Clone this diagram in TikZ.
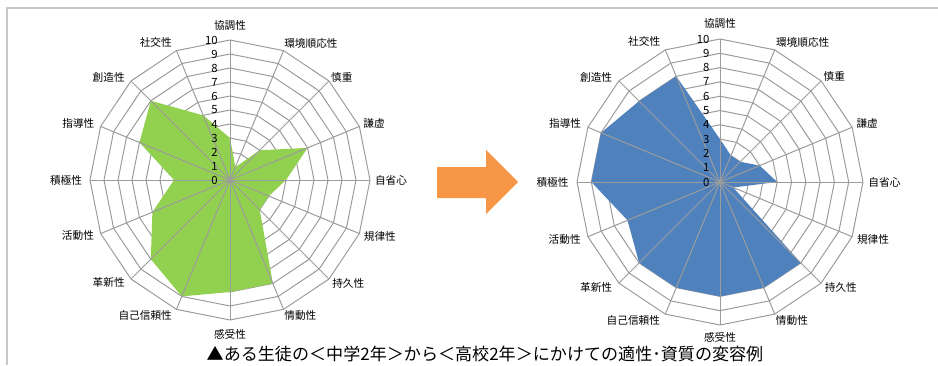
\documentclass[tikz,border=0pt]{standalone}
\usepackage{fontspec}
\setmainfont{Noto Sans CJK JP}
\definecolor{gridgray}{HTML}{9C9C9C}
\definecolor{framegray}{HTML}{C8C8C8}
\definecolor{chartgreen}{HTML}{92D050}
\definecolor{chartblue}{HTML}{4F81BD}
\definecolor{arroworange}{HTML}{F79646}
\begin{document}
\begin{tikzpicture}[x=0.75pt, y=0.75pt,
	grid/.style={draw=gridgray, line width=0.75pt, line join=round},
	axislabel/.style={font=\fontsize{8}{9}\selectfont, inner sep=0pt},
	ticklabel/.style={font=\fontsize{8.5}{9}\selectfont, inner sep=0pt, anchor=east}]

	\useasboundingbox (0,0) rectangle (938,365);

	\draw
		[framegray, line width=1.2pt] (7,0) -- (7,357) -- (938,357);

	% left chart: 中学2年
	\begin{scope}[shift={(230,185)}]
		\foreach \r in {1,...,10}
			\draw
				[grid] (90:{\r*14}) \foreach \i in {1,...,15} { -- ({90-22.5*\i}:{\r*14}) } -- cycle;

		\fill
			[chartgreen] (90:{3*14})
			\foreach \i/\v in {1/1,2/3,3/6,4/4,5/3,6/3,7/8,8/8,9/9,10/8,11/6,12/4,13/7,14/8,15/5}
				{ -- ({90-22.5*\i}:{\v*14}) } -- cycle;

		\foreach \i in {0,...,15}
			\draw
				[grid] (0,0) -- ({90-22.5*\i}:140);

		\foreach \r in {0,...,10}
			\node [ticklabel] (Lt\r) at (-12, {\r*14}) {\r};

		\foreach \a/\d/\t [count=\n] in {90/155/協調性, 59.4/159/環境順応性, 42.6/152/慎重,
				21.6/155/謙虚, 0/161/自省心, -20.5/160/規律性, -41.1/157/持久性, -62.6/153/情動性,
				-90/154/感受性, -122/160/自己信頼性, -139.7/159/革新性, -159.8/162/活動性,
				180/164/積極性, 159.4/162/指導性, 139.7/159/創造性, 118.4/156/社交性}
			\node [axislabel] (L\n) at (\a:\d) {\t};
	\end{scope}

	% arrow
	\fill
		[arroworange] (437,167) -- (486,167) -- (486,151) -- (518,183) -- (486,215) -- (486,198) -- (437,198) -- cycle;

	% right chart: 高校2年
	\begin{scope}[shift={(720,183)}, scale=1.0214]
		\foreach \r in {1,...,10}
			\draw
				[grid] (90:{\r*14}) \foreach \i in {1,...,15} { -- ({90-22.5*\i}:{\r*14}) } -- cycle;

		\fill
			[chartblue] (90:{3*14})
			\foreach \i/\v in {1/2,2/2,3/3,4/4,5/1,6/8,7/8,8/8,9/8,10/8,11/7,12/9,13/9,14/8,15/8}
				{ -- ({90-22.5*\i}:{\v*14}) } -- cycle;

		\foreach \i in {0,...,15}
			\draw
				[grid] (0,0) -- ({90-22.5*\i}:140);

		\foreach \r in {0,...,10}
			\node [ticklabel] (Rt\r) at (-10, {\r*14}) {\r};

		\foreach \a/\d/\t [count=\n] in {90/155/協調性, 59.4/159/環境順応性, 42.6/152/慎重,
				21.6/155/謙虚, 0/161/自省心, -20.5/160/規律性, -41.1/157/持久性, -62.6/153/情動性,
				-90/152/感受性, -122/160/自己信頼性, -139.7/159/革新性, -159.8/162/活動性,
				180/164/積極性, 159.4/162/指導性, 139.7/159/創造性, 118.4/156/社交性}
			\node [axislabel] (R\n) at (\a:\d) {\t};
	\end{scope}

	\node (caption) at (485,11.5) [font=\fontsize{12.8}{14}\selectfont]
		{▲ある生徒の＜中学2年＞から＜高校2年＞にかけての適性･資質の変容例};

\end{tikzpicture}
\end{document}
